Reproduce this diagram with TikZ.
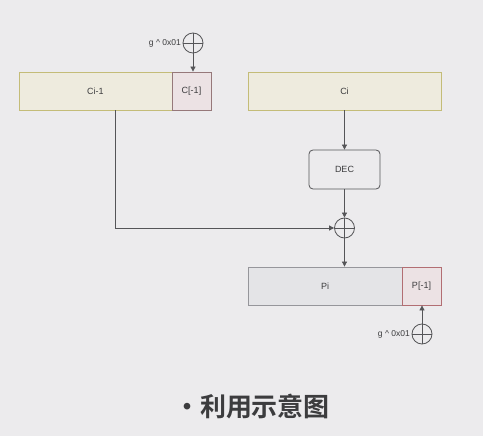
\documentclass[tikz,border=0pt]{standalone}
\usepackage{fontspec}
\setmainfont{Liberation Sans}
\newfontfamily\cjk{Noto Sans CJK SC Bold}
\usetikzlibrary{arrows.meta,calc}
\definecolor{bg}{RGB}{236,235,237}
\definecolor{ln}{RGB}{85,85,88}
\definecolor{txt}{RGB}{60,60,62}
\definecolor{beige}{RGB}{238,235,222}
\definecolor{beigeb}{RGB}{196,188,120}
\definecolor{pinkf}{RGB}{236,226,228}
\definecolor{redb}{RGB}{178,110,115}
\definecolor{redg}{RGB}{150,120,122}
\definecolor{grayf}{RGB}{228,228,231}
\definecolor{grayb}{RGB}{150,150,155}
\tikzset{
  boxtext/.style={font=\fontsize{9}{11}\selectfont,text=txt},
  blk/.style={boxtext,draw=beigeb,fill=beige,line width=0.8pt,minimum height=38pt,inner sep=0pt},
  pblk/.style={boxtext,draw=redb,fill=pinkf,line width=0.8pt,minimum height=38pt,inner sep=0pt},
  gblk/.style={boxtext,draw=grayb,fill=grayf,line width=0.8pt,minimum height=38pt,inner sep=0pt},
  decbox/.style={boxtext,draw=ln,rounded corners=4pt,line width=0.8pt,minimum width=71pt,minimum height=39pt,inner sep=0pt},
  xorc/.style={circle,draw=ln,line width=0.8pt,minimum size=20pt,inner sep=0pt,
    path picture={\draw[ln,line width=0.8pt] (path picture bounding box.north)--(path picture bounding box.south) (path picture bounding box.west)--(path picture bounding box.east);}},
  lbl/.style={font=\fontsize{8.5}{10}\selectfont,text=txt,inner sep=0pt},
  conn/.style={draw=ln,line width=0.8pt},
  arr/.style={conn,-{Triangle[length=5pt,width=5pt]}},
}
\begin{document}
\begin{tikzpicture}[x=1pt,y=-1pt]
\fill[bg] (0,0) rectangle (483,436);
\useasboundingbox (0,0) rectangle (483,436);
\node[blk,minimum width=153pt] (ci1) at (95.5,91) {Ci-1};
\node[pblk,draw=redg,minimum width=39pt] (cm1) at (191.5,91) {C[-1]};
\node[blk,minimum width=193pt] (ci) at (344.5,91) {Ci};
\node[xorc] (x1) at (193,43) {};
\node[lbl,anchor=east] (g1) at (181,43) {g \^{} 0x01};
\node[decbox] (dec) at (344.5,169.5) {DEC};
\node[xorc] (x2) at (344.5,228) {};
\node[gblk,minimum width=154pt] (pi) at (325,286) {Pi};
\node[pblk,minimum width=39pt] (pm1) at (421.5,286) {P[-1]};
\node[xorc] (x3) at (422,334) {};
\node[lbl,anchor=east] (g3) at (410,334) {g \^{} 0x01};
\node[text=txt] (title) at (252,407) {\cjk\fontsize{26}{29}\selectfont ·利用示意图};
\draw[arr] (x1.south) -- (x1.south |- cm1.north);
\draw[arr] (ci.south) -- (dec.north);
\draw[arr] (dec.south) -- (x2.north);
\draw[arr] (x2.south) -- (x2.south |- pi.north);
\draw[arr] ([xshift=19.5pt]ci1.south) |- (x2.west);
\draw[arr] (x3.north) -- (x3.north |- pm1.south);
\end{tikzpicture}
\end{document}
